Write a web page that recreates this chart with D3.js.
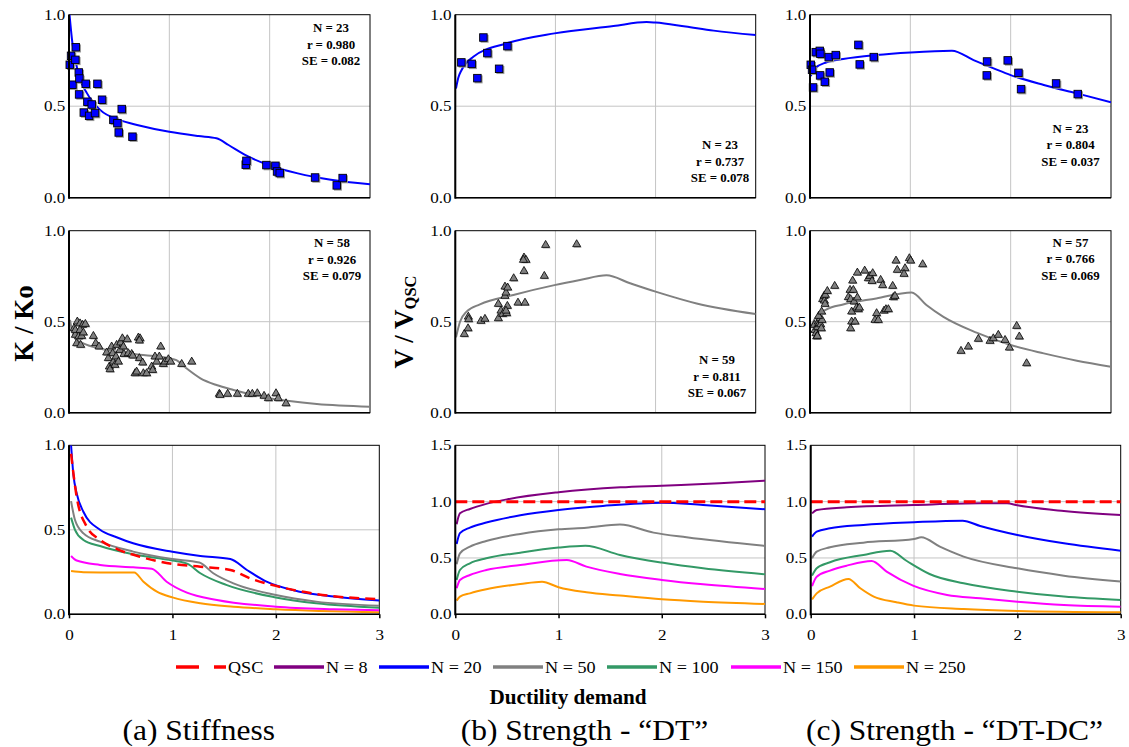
<!DOCTYPE html>
<html><head><meta charset="utf-8">
<script src="https://cdn.jsdelivr.net/npm/d3@7"></script>
<style>
body{margin:0;background:#fff}
svg text{font-family:"Liberation Serif","Times New Roman",Times,"DejaVu Serif",serif !important;fill:#000}
</style>
</head><body>
<svg id="chart" width="1129" height="747" style="font-family:'Liberation Serif','Times New Roman',serif"></svg>
<script>
// ---------------- DATA ----------------
const xTickLabels = [0, 1, 2, 3];
const yTicksUnit = [0, 0.5, 1.0];
const yTicksWide = [0, 0.5, 1.0, 1.5];
const seriesNames = ["QSC", "N = 8", "N = 20", "N = 50", "N = 100", "N = 150", "N = 250"];
const subTitles = ["(a) Stiffness", "(b) Strength - \u201CDT\u201D", "(c) Strength - \u201CDT-DC\u201D"];
const xTitle = "Ductility demand";

// stats boxes
const statsA1 = ["N = 23", "r = 0.980", "SE = 0.082"];
const statsB1 = ["N = 23", "r = 0.737", "SE = 0.078"];
const statsC1 = ["N = 23", "r = 0.804", "SE = 0.037"];
const statsA2 = ["N = 58", "r = 0.926", "SE = 0.079"];
const statsB2 = ["N = 59", "r = 0.811", "SE = 0.067"];
const statsC2 = ["N = 57", "r = 0.766", "SE = 0.069"];

// top row (N = 20 tests) fitted curves and tests
const a1Fit = [[0.005,1.0],[0.035,0.84],[0.07,0.735],[0.1,0.665],[0.18,0.57],[0.31,0.48],[0.5,0.425],[0.7,0.395],[1.0,0.36],[1.29,0.337],[1.47,0.325],[1.59,0.288],[1.75,0.235],[2.0,0.176],[2.28,0.133],[2.61,0.098],[3.0,0.073]];
const a1Pts = [[0.01,0.725],[0.023,0.774],[0.037,0.616],[0.07,0.821],[0.066,0.752],[0.10,0.683],[0.106,0.65],[0.103,0.563],[0.15,0.464],[0.169,0.621],[0.186,0.523],[0.203,0.446],[0.229,0.508],[0.262,0.461],[0.286,0.621],[0.332,0.534],[0.445,0.424],[0.485,0.406],[0.498,0.355],[0.528,0.483],[0.635,0.332],[1.764,0.179],[1.771,0.20],[1.97,0.177],[2.06,0.173],[2.076,0.142],[2.103,0.133],[2.455,0.109],[2.671,0.066],[2.73,0.106]];
const b1Fit = [[0.007,0.597],[0.03,0.655],[0.063,0.698],[0.18,0.77],[0.51,0.843],[0.99,0.898],[1.58,0.938],[1.91,0.96],[2.0,0.957],[2.3,0.935],[2.58,0.913],[3.0,0.889]];
const b1Pts = [[0.063,0.738],[0.166,0.730],[0.223,0.652],[0.283,0.874],[0.323,0.789],[0.44,0.703],[0.523,0.827]];
const c1Fit = [[0.007,0.665],[0.05,0.707],[0.166,0.74],[0.33,0.758],[0.66,0.78],[1.0,0.794],[1.415,0.803],[1.63,0.752],[1.83,0.707],[2.0,0.67],[2.33,0.616],[2.66,0.57],[3.0,0.521]];
const c1Pts = [[0.010,0.725],[0.023,0.698],[0.033,0.601],[0.060,0.794],[0.100,0.801],[0.106,0.785],[0.103,0.667],[0.150,0.632],[0.189,0.767],[0.199,0.683],[0.259,0.778],[0.485,0.834],[0.498,0.727],[0.638,0.767],[1.767,0.743],[1.764,0.667],[1.973,0.749],[2.080,0.681],[2.106,0.592],[2.455,0.623],[2.671,0.565]];

// middle row (all tests) fitted curves and tests
const a2Fit = [[0.01,0.51],[0.03,0.45],[0.06,0.41],[0.143,0.381],[0.31,0.353],[0.64,0.322],[1.0,0.299],[1.07,0.289],[1.17,0.244],[1.31,0.189],[1.47,0.152],[1.64,0.125],[2.0,0.079],[2.47,0.048],[3.0,0.033]];
const a2Pts = [[0.05,0.463],[0.083,0.50],[0.11,0.49],[0.136,0.482],[0.163,0.487],[0.063,0.427],[0.096,0.418],[0.126,0.421],[0.076,0.381],[0.116,0.372],[0.063,0.454],[0.11,0.454],[0.143,0.44],[0.243,0.421],[0.266,0.381],[0.299,0.363],[0.375,0.33],[0.392,0.299],[0.402,0.253],[0.409,0.238],[0.425,0.363],[0.435,0.326],[0.442,0.28],[0.458,0.262],[0.468,0.308],[0.475,0.372],[0.492,0.28],[0.508,0.344],[0.515,0.385],[0.532,0.408],[0.542,0.363],[0.548,0.322],[0.581,0.403],[0.591,0.326],[0.625,0.322],[0.635,0.313],[0.658,0.216],[0.674,0.225],[0.691,0.412],[0.708,0.408],[0.701,0.396],[0.701,0.299],[0.734,0.275],[0.741,0.216],[0.774,0.216],[0.824,0.253],[0.834,0.234],[0.857,0.308],[0.874,0.28],[0.9,0.308],[0.914,0.363],[0.94,0.267],[0.957,0.28],[0.99,0.293],[1.013,0.28],[1.123,0.267],[1.223,0.28],[1.498,0.103],[1.505,0.097],[1.581,0.103],[1.678,0.103],[1.787,0.103],[1.827,0.103],[1.877,0.106],[1.944,0.092],[1.987,0.079],[2.063,0.106],[2.086,0.079],[2.163,0.051]];
const b2Fit = [[0.007,0.414],[0.047,0.50],[0.113,0.555],[0.246,0.595],[0.58,0.647],[0.99,0.701],[1.245,0.729],[1.51,0.755],[1.745,0.711],[2.0,0.665],[2.41,0.60],[3.0,0.542]];
const b2Pts = [[0.09,0.432],[0.127,0.463],[0.13,0.527],[0.133,0.513],[0.256,0.504],[0.296,0.515],[0.43,0.518],[0.43,0.597],[0.456,0.56],[0.473,0.542],[0.513,0.546],[0.52,0.586],[0.506,0.56],[0.496,0.641],[0.506,0.659],[0.496,0.692],[0.523,0.687],[0.583,0.738],[0.626,0.604],[0.696,0.604],[0.686,0.778],[0.686,0.852],[0.706,0.839],[0.68,0.839],[0.889,0.751],[0.902,0.921],[1.212,0.925]];
const c2Fit = [[0.007,0.469],[0.05,0.518],[0.166,0.568],[0.33,0.595],[0.66,0.628],[1.013,0.661],[1.16,0.592],[1.33,0.527],[1.66,0.44],[2.0,0.372],[2.33,0.326],[2.66,0.286],[3.0,0.253]];
const c2Pts = [[0.043,0.482],[0.05,0.454],[0.06,0.436],[0.066,0.418],[0.073,0.421],[0.076,0.469],[0.083,0.50],[0.093,0.491],[0.1,0.518],[0.106,0.485],[0.113,0.463],[0.12,0.509],[0.086,0.531],[0.116,0.555],[0.126,0.623],[0.14,0.641],[0.143,0.615],[0.15,0.597],[0.153,0.647],[0.173,0.668],[0.246,0.696],[0.382,0.634],[0.399,0.674],[0.405,0.623],[0.415,0.555],[0.425,0.725],[0.432,0.674],[0.439,0.61],[0.405,0.463],[0.415,0.50],[0.449,0.50],[0.465,0.577],[0.472,0.632],[0.482,0.568],[0.492,0.577],[0.472,0.769],[0.545,0.78],[0.581,0.738],[0.598,0.751],[0.618,0.723],[0.625,0.766],[0.648,0.509],[0.664,0.546],[0.681,0.509],[0.704,0.729],[0.724,0.70],[0.738,0.56],[0.757,0.568],[0.781,0.568],[0.824,0.696],[0.831,0.634],[0.847,0.641],[0.857,0.835],[0.87,0.784],[0.947,0.793],[0.937,0.762],[0.99,0.848],[1.003,0.835],[1.123,0.815],[1.505,0.339],[1.578,0.363],[1.678,0.405],[1.794,0.394],[1.827,0.408],[1.877,0.427],[1.944,0.399],[1.987,0.357],[2.06,0.476],[2.086,0.418],[2.159,0.271]];

// bottom row: model curves for each N
const aQSC  = [[0.02,0.95],[0.074,0.696],[0.17,0.52],[0.30,0.44],[0.46,0.387],[0.69,0.34],[1.0,0.298],[1.27,0.282],[1.56,0.262],[1.75,0.213],[2.0,0.168],[2.39,0.12],[3.0,0.089]];
const aN20  = [[0.02,1.0],[0.042,0.83],[0.074,0.716],[0.139,0.607],[0.30,0.50],[0.46,0.456],[0.62,0.42],[1.0,0.37],[1.27,0.345],[1.56,0.327],[1.72,0.262],[1.91,0.193],[2.23,0.134],[2.56,0.105],[3.0,0.081]];
const aN50  = [[0.02,0.67],[0.058,0.558],[0.14,0.479],[0.30,0.43],[0.62,0.371],[1.0,0.327],[1.26,0.306],[1.395,0.243],[1.59,0.183],[2.0,0.114],[2.39,0.075],[3.0,0.051]];
const aN100 = [[0.02,0.572],[0.058,0.50],[0.14,0.44],[0.30,0.404],[0.62,0.355],[1.0,0.318],[1.147,0.298],[1.27,0.243],[1.52,0.174],[2.0,0.10],[2.39,0.065],[3.0,0.039]];
const aN150 = [[0.02,0.345],[0.074,0.318],[0.30,0.292],[0.62,0.278],[0.80,0.27],[0.944,0.193],[1.14,0.128],[1.43,0.085],[2.0,0.045],[2.56,0.03],[3.0,0.024]];
const aN250 = [[0.02,0.256],[0.14,0.249],[0.46,0.247],[0.63,0.247],[0.72,0.193],[0.85,0.134],[1.0,0.10],[1.27,0.065],[1.59,0.045],[2.0,0.03],[3.0,0.012]];

const bQSC  = [[0,1.0],[3,1.0]];
const bN8   = [[0.013,0.80],[0.045,0.896],[0.142,0.935],[0.30,0.98],[0.50,1.02],[1.0,1.083],[1.6,1.127],[2.0,1.142],[2.56,1.163],[3.0,1.186]];
const bN20  = [[0.013,0.624],[0.045,0.72],[0.142,0.77],[0.30,0.814],[0.63,0.879],[1.0,0.926],[1.43,0.962],[2.0,0.991],[2.40,0.97],[3.0,0.932]];
const bN50  = [[0.013,0.444],[0.045,0.541],[0.142,0.60],[0.30,0.651],[0.63,0.713],[1.0,0.754],[1.27,0.769],[1.595,0.796],[1.92,0.725],[2.24,0.683],[3.0,0.607]];
const bN100 = [[0.013,0.305],[0.045,0.393],[0.142,0.453],[0.30,0.497],[0.63,0.547],[1.0,0.592],[1.26,0.609],[1.595,0.527],[2.0,0.459],[2.40,0.408],[3.0,0.355]];
const bN150 = [[0.013,0.231],[0.045,0.305],[0.142,0.349],[0.30,0.393],[0.63,0.438],[1.08,0.482],[1.27,0.423],[1.595,0.358],[2.0,0.305],[2.40,0.266],[3.0,0.225]];
const bN250 = [[0.013,0.121],[0.045,0.157],[0.142,0.186],[0.30,0.222],[0.63,0.269],[0.84,0.29],[1.0,0.24],[1.27,0.195],[1.595,0.166],[2.0,0.133],[2.40,0.112],[3.0,0.092]];

const cQSC  = [[0,1.0],[3,1.0]];
const cN8   = [[0.013,0.896],[0.058,0.926],[0.35,0.95],[1.0,0.97],[1.64,0.985],[1.90,0.985],[2.0,0.967],[2.45,0.917],[3.0,0.882]];
const cN20  = [[0.013,0.69],[0.058,0.734],[0.187,0.763],[0.51,0.793],[1.0,0.817],[1.47,0.831],[1.64,0.784],[2.0,0.704],[2.45,0.63],[3.0,0.565]];
const cN50  = [[0.013,0.497],[0.058,0.556],[0.187,0.595],[0.51,0.636],[1.0,0.669],[1.07,0.683],[1.25,0.60],[1.48,0.512],[2.0,0.408],[2.45,0.343],[3.0,0.29]];
const cN100 = [[0.013,0.343],[0.058,0.408],[0.187,0.462],[0.51,0.527],[0.77,0.565],[0.93,0.473],[1.15,0.358],[1.48,0.275],[2.0,0.201],[2.45,0.157],[3.0,0.127]];
const cN150 = [[0.013,0.251],[0.058,0.334],[0.187,0.388],[0.35,0.432],[0.59,0.473],[0.735,0.379],[0.99,0.254],[1.32,0.172],[1.64,0.142],[2.0,0.112],[2.45,0.083],[3.0,0.068]];
const cN250 = [[0.013,0.133],[0.058,0.186],[0.187,0.246],[0.365,0.314],[0.48,0.231],[0.61,0.157],[0.83,0.107],[1.0,0.077],[1.48,0.047],[2.0,0.03],[3.0,0.018]];

// ---------------- STYLE ----------------
const FONT = "'Liberation Serif','Times New Roman',Times,'DejaVu Serif',serif";
const colors = {"QSC":"#ff0000","N = 8":"#800080","N = 20":"#0000ff","N = 50":"#808080","N = 100":"#339966","N = 150":"#ff00ff","N = 250":"#ff9900"};
const svg = d3.select("#chart");

function label(parent, x, y, s, size, o = {}) {
  return parent.append("text")
    .attr("transform", `translate(${x},${y}) scale(${o.sx || 1},1)`)
    .attr("style", `font-family:${FONT};font-size:${size}px;${o.bold ? "font-weight:bold;" : ""}`)
    .attr("text-anchor", o.anchor || "middle")
    .text(s);
}

let clipId = 0;
function panel(cfg) {
  const x = d3.scaleLinear().domain([0, 3]).range([cfg.x0, cfg.x1]);
  const y = d3.scaleLinear().domain([0, cfg.ymax]).range([cfg.y1, cfg.y0]);
  const g = svg.append("g");
  const id = "clip" + (clipId++);
  g.append("clipPath").attr("id", id).append("rect")
    .attr("x", cfg.x0).attr("y", cfg.y0).attr("width", cfg.x1 - cfg.x0).attr("height", cfg.y1 - cfg.y0);

  // grid
  g.selectAll(".vg").data([1, 2]).join("line")
    .attr("x1", d => x(d)).attr("x2", d => x(d)).attr("y1", cfg.y0).attr("y2", cfg.y1)
    .attr("stroke", "#c4c4c4").attr("stroke-width", 1);
  const yt = cfg.ymax === 1 ? yTicksUnit : yTicksWide;
  g.selectAll(".hg").data(yt.filter(v => v > 0 && v < cfg.ymax)).join("line")
    .attr("x1", cfg.x0).attr("x2", cfg.x1).attr("y1", d => y(d)).attr("y2", d => y(d))
    .attr("stroke", "#c4c4c4").attr("stroke-width", 1);

  // frame
  g.append("rect").attr("x", cfg.x0).attr("y", cfg.y0).attr("width", cfg.x1 - cfg.x0).attr("height", cfg.y1 - cfg.y0)
    .attr("fill", "none").attr("stroke", "#000").attr("stroke-width", 1);

  // curves
  const line = d3.line().x(d => x(d[0])).y(d => y(d[1])).curve(d3.curveMonotoneX);
  const cg = g.append("g").attr("clip-path", `url(#${id})`);
  (cfg.curves || []).forEach(c => {
    cg.append("path").datum(c.data).attr("d", line).attr("fill", "none")
      .attr("stroke", c.color).attr("stroke-width", c.w || 2)
      .attr("stroke-dasharray", c.dash || null);
  });

  // markers
  if (cfg.pts) {
    const mg = g.append("g");
    if (cfg.mark === "square") {
      mg.selectAll(".sh").data(cfg.pts).join("rect")
        .attr("x", d => x(d[0]) - 3).attr("y", d => y(d[1]) - 3).attr("width", 8).attr("height", 8)
        .attr("fill", "#9a9a9a");
      mg.selectAll(".sq").data(cfg.pts).join("rect")
        .attr("x", d => x(d[0]) - 4).attr("y", d => y(d[1]) - 4).attr("width", 7.5).attr("height", 7.5)
        .attr("fill", "#0000ff").attr("stroke", "#000").attr("stroke-width", 0.9);
    } else {
      const sym = d3.symbol().type(d3.symbolTriangle).size(28);
      mg.selectAll(".tsh").data(cfg.pts).join("path")
        .attr("transform", d => `translate(${x(d[0]) + 1},${y(d[1]) + 1})`).attr("d", sym)
        .attr("fill", "#b0b0b0");
      mg.selectAll(".tr").data(cfg.pts).join("path")
        .attr("transform", d => `translate(${x(d[0])},${y(d[1])})`).attr("d", sym)
        .attr("fill", "#808080").attr("stroke", "#000").attr("stroke-width", 0.8);
    }
  }

  // y axis
  const ya = g.append("g").attr("transform", `translate(${cfg.x0},0)`)
    .call(d3.axisLeft(y).tickValues(yt).tickFormat(d3.format(".1f")).tickSize(0).tickPadding(3));
  ya.attr("font-family", null).attr("font-size", null);
  ya.select(".domain").remove();
  ya.selectAll("text").attr("style", `font-family:${FONT};font-size:14px`)
    .attr("transform", "scale(1.22,1)").attr("fill", "#000");
  g.append("line").attr("x1", cfg.x0).attr("x2", cfg.x0).attr("y1", cfg.y0).attr("y2", cfg.y1 + 1)
    .attr("stroke", "#000").attr("stroke-width", 2);
  g.append("line").attr("x1", cfg.x0).attr("x2", cfg.x1).attr("y1", cfg.y1).attr("y2", cfg.y1)
    .attr("stroke", "#000").attr("stroke-width", 1.5);

  // x axis (bottom row only)
  if (cfg.xlabels) {
    const xa = g.append("g").attr("transform", `translate(0,${cfg.y1})`)
      .call(d3.axisBottom(x).tickValues(xTickLabels).tickFormat(d3.format("d")).tickSize(4).tickPadding(12));
    xa.attr("font-family", null).attr("font-size", null);
    xa.select(".domain").remove();
    xa.selectAll("line").attr("stroke", "#000").attr("stroke-width", 1.5);
    xa.selectAll("text").attr("style", `font-family:${FONT};font-size:14px`)
      .attr("transform", "scale(1.22,1)").attr("fill", "#000");
  }

  // stats
  if (cfg.stats) {
    cfg.stats.forEach((s, i) => label(g, cfg.sx, cfg.sy + i * 16.5, s, 11.5, {bold: true, sx: 1.12}));
  }
}

const C = colors;
const stiffCurves = [
  {data: aN250, color: C["N = 250"]}, {data: aN150, color: C["N = 150"]},
  {data: aN100, color: C["N = 100"]}, {data: aN50, color: C["N = 50"]},
  {data: aN20, color: C["N = 20"]}, {data: aQSC, color: C["QSC"], w: 2.5, dash: "10,6"}
];
const dtCurves = [
  {data: bN250, color: C["N = 250"]}, {data: bN150, color: C["N = 150"]},
  {data: bN100, color: C["N = 100"]}, {data: bN50, color: C["N = 50"]},
  {data: bN20, color: C["N = 20"]}, {data: bN8, color: C["N = 8"]},
  {data: bQSC, color: C["QSC"], w: 3, dash: "12,5"}
];
const dtdcCurves = [
  {data: cN250, color: C["N = 250"]}, {data: cN150, color: C["N = 150"]},
  {data: cN100, color: C["N = 100"]}, {data: cN50, color: C["N = 50"]},
  {data: cN20, color: C["N = 20"]}, {data: cN8, color: C["N = 8"]},
  {data: cQSC, color: C["QSC"], w: 3, dash: "12,5"}
];

const cols = [{t: [69, 370], b: [69, 379.3]}, {t: [455.3, 755.7], b: [455.3, 765]}, {t: [810, 1111], b: [810.7, 1120.7]}];
const rows = [[14.7, 197.7], [230.7, 412.7], [445.3, 614.3]];

panel({x0: cols[0].t[0], x1: cols[0].t[1], y0: rows[0][0], y1: rows[0][1], ymax: 1,
  curves: [{data: a1Fit, color: C["N = 20"]}], pts: a1Pts, mark: "square", stats: statsA1, sx: 331, sy: 32});
panel({x0: cols[1].t[0], x1: cols[1].t[1], y0: rows[0][0], y1: rows[0][1], ymax: 1,
  curves: [{data: b1Fit, color: C["N = 20"]}], pts: b1Pts, mark: "square", stats: statsB1, sx: 720, sy: 149});
panel({x0: cols[2].t[0], x1: cols[2].t[1], y0: rows[0][0], y1: rows[0][1], ymax: 1,
  curves: [{data: c1Fit, color: C["N = 20"]}], pts: c1Pts, mark: "square", stats: statsC1, sx: 1070.5, sy: 132.7});

panel({x0: cols[0].t[0], x1: cols[0].t[1], y0: rows[1][0], y1: rows[1][1], ymax: 1,
  curves: [{data: a2Fit, color: C["N = 50"]}], pts: a2Pts, mark: "tri", stats: statsA2, sx: 332, sy: 247.3});
panel({x0: cols[1].t[0], x1: cols[1].t[1], y0: rows[1][0], y1: rows[1][1], ymax: 1,
  curves: [{data: b2Fit, color: C["N = 50"]}], pts: b2Pts, mark: "tri", stats: statsB2, sx: 717, sy: 364});
panel({x0: cols[2].t[0], x1: cols[2].t[1], y0: rows[1][0], y1: rows[1][1], ymax: 1,
  curves: [{data: c2Fit, color: C["N = 50"]}], pts: c2Pts, mark: "tri", stats: statsC2, sx: 1070.5, sy: 246.7});

panel({x0: cols[0].b[0], x1: cols[0].b[1], y0: rows[2][0], y1: rows[2][1], ymax: 1, curves: stiffCurves, xlabels: true});
panel({x0: cols[1].b[0], x1: cols[1].b[1], y0: rows[2][0], y1: rows[2][1], ymax: 1.5, curves: dtCurves, xlabels: true});
panel({x0: cols[2].b[0], x1: cols[2].b[1], y0: rows[2][0], y1: rows[2][1], ymax: 1.5, curves: dtdcCurves, xlabels: true});

// y axis titles
svg.append("text").attr("transform", "translate(33,323.5) rotate(-90)")
  .attr("text-anchor", "middle").attr("style", `font-family:${FONT};font-size:27px;font-weight:bold`).text("K / Ko");
const vt = svg.append("text").attr("transform", "translate(413,322) rotate(-90)")
  .attr("text-anchor", "middle").attr("style", `font-family:${FONT};font-size:27px;font-weight:bold`);
vt.append("tspan").text("V / V");
vt.append("tspan").attr("style", "font-size:16.5px").attr("dy", 3).text("QSC");

// legend
const legX = [176, 274, 379, 493, 607, 731, 854];
const lg = svg.append("g");
seriesNames.forEach((n, i) => {
  lg.append("line").attr("x1", legX[i]).attr("x2", legX[i] + 50).attr("y1", 667).attr("y2", 667)
    .attr("stroke", colors[n]).attr("stroke-width", 3.5)
    .attr("stroke-dasharray", n === "QSC" ? "23,15" : null);
  label(lg, legX[i] + 52, 673, n, 16.5, {anchor: "start", sx: 1.1});
});

// x title and subtitles
label(svg, 568, 704, xTitle, 20, {bold: true, sx: 1.06});
const subX = [198.7, 584.5, 954.5];
subTitles.forEach((s, i) => label(svg, subX[i], 740, s, 30, {sx: 1.05}));
</script>
</body></html>
